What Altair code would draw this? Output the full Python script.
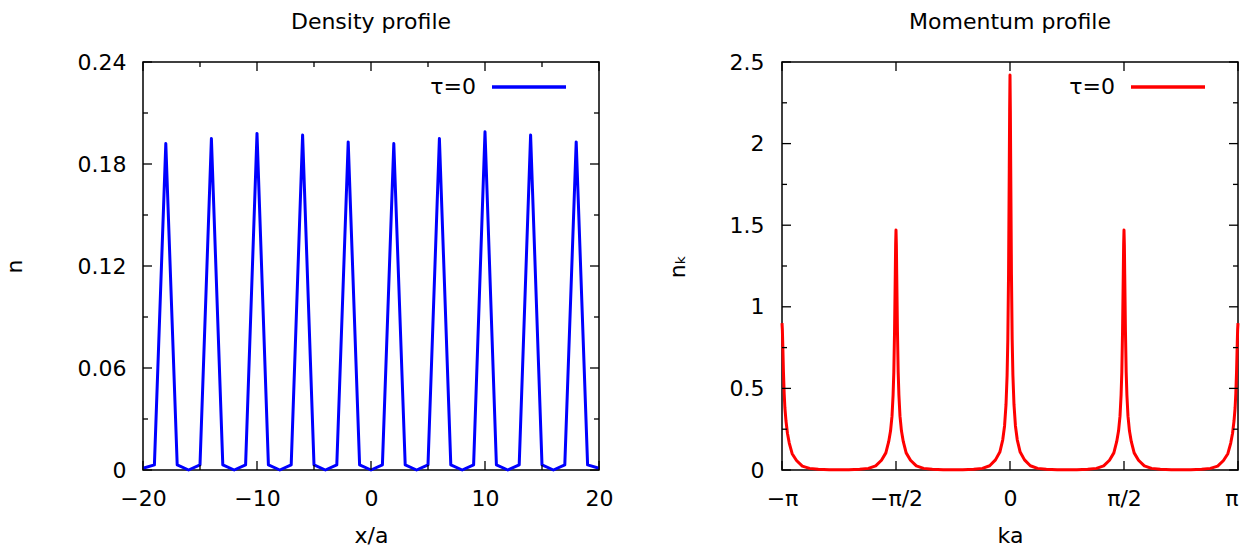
import math
import altair as alt
import pandas as pd

# ---------------- data ----------------
# Density profile: lattice sites and occupation
sites = list(range(-20, 21))
density = [0.001, 0.003, 0.192, 0.003, 0.0, 0.003, 0.195, 0.003, 0.0, 0.003,
           0.198, 0.003, 0.0, 0.003, 0.197, 0.003, 0.0, 0.003, 0.193, 0.003,
           0.0, 0.003, 0.192, 0.003, 0.0, 0.003, 0.195, 0.003, 0.0, 0.003,
           0.199, 0.003, 0.0, 0.003, 0.197, 0.003, 0.0, 0.003, 0.193, 0.003,
           0.001]

# Momentum profile: distance from each peak (rad) and values read per peak
offsets = [0, 0.005, 0.01, 0.02, 0.03, 0.04, 0.055, 0.075, 0.1, 0.14, 0.2,
           0.28, 0.38, 0.5, 0.65]
n_center = [2.42, 2.2, 1.85, 1.2, 0.8, 0.58, 0.40, 0.27, 0.185, 0.11, 0.062,
            0.026, 0.010, 0.004, 0.002]
n_half = [1.47, 1.38, 1.2, 0.85, 0.6, 0.46, 0.33, 0.24, 0.175, 0.105, 0.06,
          0.025, 0.010, 0.004, 0.002]
n_edge = [0.90, 0.86, 0.78, 0.6, 0.47, 0.38, 0.30, 0.225, 0.165, 0.10, 0.058,
          0.024, 0.010, 0.004, 0.002]
mid_value = 0.001

PI = math.pi
k_list, nk_list = [], []


def add_peak(center, vals, left=True, right=True):
    for o, v in zip(offsets, vals):
        if o == 0:
            k_list.append(center); nk_list.append(v)
            continue
        if left:
            k_list.append(center - o); nk_list.append(v)
        if right:
            k_list.append(center + o); nk_list.append(v)


add_peak(-PI, n_edge, left=False)
add_peak(-PI / 2, n_half)
add_peak(0.0, n_center)
add_peak(PI / 2, n_half)
add_peak(PI, n_edge, right=False)
for c in (-3 * PI / 4, -PI / 4, PI / 4, 3 * PI / 4):
    k_list.append(c); nk_list.append(mid_value)

dens_df = pd.DataFrame({"x": sites, "n": density})
mom_df = pd.DataFrame({"k": k_list, "nk": nk_list}).sort_values("k")

# tick lists
dx_major = [-20, -10, 0, 10, 20]
dx_minor = [-15, -5, 5, 15]
dy_major = [0, 0.06, 0.12, 0.18, 0.24]
dy_minor = [0.03, 0.09, 0.15, 0.21]
mx_major = [-PI, -PI / 2, 0, PI / 2, PI]
my_major = [0, 0.5, 1, 1.5, 2, 2.5]
my_minor = [0.25, 0.75, 1.25, 1.75, 2.25]

W, H = 456, 408
FONT = "DejaVu Sans"
FS = 22
MAJ, MIN = 9, 5


def ticks_layers(xscale, yscale, xmaj, xmin, ymaj, ymin):
    layers = []
    for vals, ln in ((xmaj, MAJ), (xmin, MIN)):
        if not vals:
            continue
        d = pd.DataFrame({"v": vals})
        base = alt.Chart(d).mark_rule(color="black", strokeWidth=1.3)
        layers.append(base.encode(x=alt.X("v:Q", scale=xscale),
                                  y=alt.value(H), y2=alt.value(H - ln)))
        layers.append(base.encode(x=alt.X("v:Q", scale=xscale),
                                  y=alt.value(0), y2=alt.value(ln)))
    for vals, ln in ((ymaj, MAJ), (ymin, MIN)):
        if not vals:
            continue
        d = pd.DataFrame({"v": vals})
        base = alt.Chart(d).mark_rule(color="black", strokeWidth=1.3)
        layers.append(base.encode(y=alt.Y("v:Q", scale=yscale),
                                  x=alt.value(0), x2=alt.value(ln)))
        layers.append(base.encode(y=alt.Y("v:Q", scale=yscale),
                                  x=alt.value(W - ln), x2=alt.value(W)))
    return layers


def legend_layers(color):
    lab = pd.DataFrame({"label": ["τ=0"]})
    t = alt.Chart(lab).mark_text(align="right", baseline="middle", font=FONT,
                                 fontSize=FS, color="black").encode(
        text="label:N", x=alt.value(333), y=alt.value(25))
    r = alt.Chart(lab).mark_rule(color=color, strokeWidth=3.5).encode(
        x=alt.value(349), x2=alt.value(423), y=alt.value(25))
    return [t, r]


def axis(values, title, **kw):
    return alt.Axis(values=values, title=title, ticks=False, domain=False,
                    grid=False, labelFont=FONT, labelFontSize=FS,
                    labelColor="black", titleFont=FONT, titleFontSize=FS,
                    titleFontWeight="normal", titleColor="black",
                    labelOverlap=False, labelBound=False, labelFlush=False,
                    **kw)


# ---------------- left chart ----------------
xs_d = alt.Scale(domain=[-20, 20], nice=False, zero=False)
ys_d = alt.Scale(domain=[0, 0.24], nice=False, zero=False)

dens_line = alt.Chart(dens_df).mark_line(color="#0000ff", strokeWidth=3,
                                         strokeJoin="round").encode(
    x=alt.X("x:Q", scale=xs_d,
            axis=axis(dx_major, "x/a", labelPadding=18, titlePadding=16)),
    y=alt.Y("n:Q", scale=ys_d,
            axis=axis(dy_major, "n", labelPadding=17, titlePadding=51,
                      labelExpr="datum.value == 0 ? '0' : format(datum.value, '.2f')")),
)

left = alt.layer(
    dens_line,
    *ticks_layers(xs_d, ys_d, dx_major, dx_minor, dy_major, dy_minor),
    *legend_layers("#0000ff"),
).properties(
    width=W, height=H,
    title=alt.TitleParams("Density profile", font=FONT, fontSize=FS,
                          fontWeight="normal", color="black", offset=17),
)

# ---------------- right chart ----------------
xs_m = alt.Scale(domain=[-PI, PI], nice=False, zero=False)
ys_m = alt.Scale(domain=[0, 2.5], nice=False, zero=False)

label_pi = ("abs(datum.value) < 0.01 ? '0' : datum.value < -3 ? '−π' : "
            "datum.value < -1 ? '−π/2' : datum.value < 3 ? 'π/2' : 'π'")

mom_line = alt.Chart(mom_df).mark_line(color="#ff0000", strokeWidth=3,
                                       strokeJoin="round").encode(
    x=alt.X("k:Q", scale=xs_m,
            axis=axis(mx_major, "ka", labelPadding=18, titlePadding=16,
                      labelExpr=label_pi,
                      labelAlign={"condition": {"test": "datum.value > 3",
                                                "value": "right"},
                                  "value": "center"})),
    y=alt.Y("nk:Q", scale=ys_m,
            axis=axis(my_major, "nₖ", labelPadding=18, titlePadding=40,
                      labelExpr="'' + datum.value")),
)

right = alt.layer(
    mom_line,
    *ticks_layers(xs_m, ys_m, mx_major, [], my_major, my_minor),
    *legend_layers("#ff0000"),
).properties(
    width=W, height=H,
    title=alt.TitleParams("Momentum profile", font=FONT, fontSize=FS,
                          fontWeight="normal", color="black", offset=17),
)

chart = alt.hconcat(left, right, spacing=183, bounds="flush").properties(
    padding={"left": 2, "top": 10, "right": 0, "bottom": 0},
).configure(background="white").configure_view(stroke="black", strokeWidth=1.5)

chart.save("out.html", embed_options={"renderer": "svg", "actions": False})
